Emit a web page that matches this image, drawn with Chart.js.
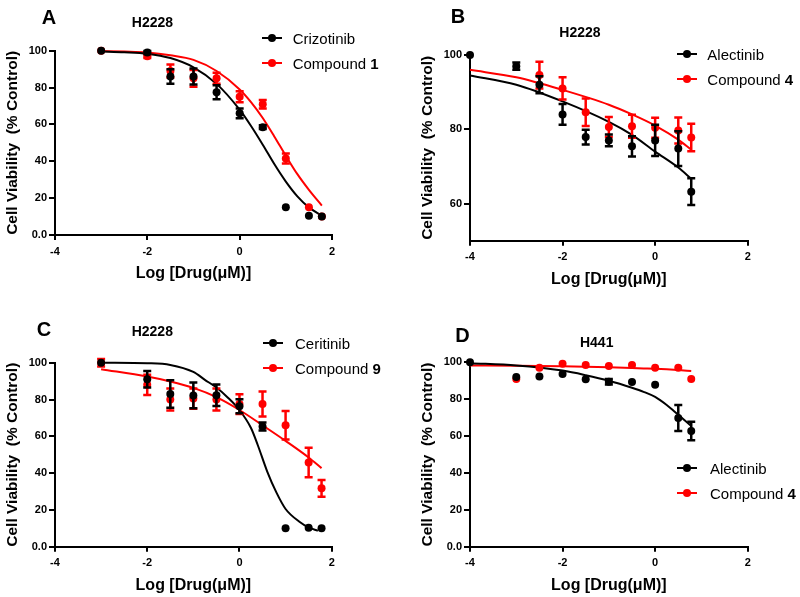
<!DOCTYPE html>
<html>
<head>
<meta charset="utf-8">
<script src="https://cdn.jsdelivr.net/npm/chart.js@4.4.0/dist/chart.umd.min.js"></script>
<style>
  body { margin:0; background:#fff; width:800px; height:597px; position:relative; overflow:hidden;
         font-family: Arial, "Liberation Sans", sans-serif; color:#000; }
  canvas { position:absolute; }
  .lbl { position:absolute; transform:translate(-50%,-50%); font-weight:bold; white-space:nowrap; }
  .letter { font-size:20px; }
  .cell { font-size:14px; }
  .legtxt { position:absolute; font-size:15px; white-space:nowrap; transform:translateY(-50%); }
  .legline { position:absolute; width:20px; height:2px; transform:translateY(-50%); }
  .legdot { position:absolute; width:8px; height:8px; border-radius:50%; transform:translate(-50%,-50%); }
</style>
</head>
<body>
<canvas id="cA" width="400" height="300" style="left:0;top:0"></canvas>
<canvas id="cB" width="400" height="300" style="left:400px;top:0"></canvas>
<canvas id="cC" width="400" height="297" style="left:0;top:300px"></canvas>
<canvas id="cD" width="400" height="297" style="left:400px;top:300px"></canvas>

<script>
// ===== DADOS =====
const xTicks  = [-4, -2, 0, 2];
const yTicks  = [0, 20, 40, 60, 80, 100];
const yTicksB = [60, 80, 100];

// A - H2228
const xA            = [-3, -2, -1.5, -1, -0.5, 0, 0.5, 1, 1.5, 1.78];
const crizotinib    = [100, 99, 86, 86, 77.5, 66, 58.5, 15, 10.5, 10];
const crizotinibErr = [0, 0.8, 4, 4.3, 3.8, 2.7, 1, 0, 0, 0];
const compound1     = [100, 97, 89, 85, 85, 75, 71, 41.5, 15, 10];
const compound1Err  = [0, 1, 3.5, 4.5, 3, 3, 2.3, 2.7, 0, 0];
const fitXA         = [-3, -2.5, -2, -1.5, -1, -0.5, 0, 0.25, 0.5, 0.75, 1, 1.25, 1.5, 1.78];
const crizotinibFit = [99.6, 99.2, 98.4, 96, 91, 82, 68, 59, 49, 38.5, 29, 21, 15, 10.5];
const compound1Fit  = [99.8, 99.5, 99, 97.5, 95, 89, 79, 72, 63.5, 53.5, 43, 33, 24.5, 16];

// B - H2228
const xB_alec       = [-4, -3, -2.5, -2, -1.5, -1, -0.5, 0, 0.5, 0.78];
const alectinibB    = [100, 97, 92, 84, 77.9, 77, 75.4, 77, 74.8, 63.2];
const alectinibBErr = [0, 1, 2.3, 2.8, 2, 1.6, 2.7, 4.2, 4.7, 3.6];
const xB_c4         = [-2.5, -2, -1.5, -1, -0.5, 0, 0.5, 0.78];
const compound4B    = [94.6, 91, 84.6, 80.6, 80.8, 80.4, 79.7, 77.8];
const compound4BErr = [3.6, 3, 3.7, 2.7, 3.1, 2.7, 3.5, 3.7];
const fitXB         = [-4, -3, -2, -1, -0.5, 0, 0.5, 0.78];
const alectinibBFit = [94.5, 92, 87.5, 82, 78.5, 74, 69.7, 66.7];
const compound4BFit = [96, 94, 90.6, 86.6, 84, 81, 77.2, 74.5];

// C - H2228
const xC            = [-3, -2, -1.5, -1, -0.5, 0, 0.5, 1, 1.5, 1.78];
const ceritinib     = [100, 91, 83, 82.2, 82.3, 76.3, 65.3, 10, 10.3, 10];
const ceritinibErr  = [0, 4.5, 7.5, 7, 5.9, 3.8, 2.2, 0, 0, 0];
const compound9     = [100, 88, 80, 80.5, 80, 77.5, 77.5, 66, 45.8, 31.7];
const compound9Err  = [2, 5.5, 6, 5.5, 6, 5.4, 6.8, 7.7, 8, 4.5];
const fitXC_cer     = [-3, -2, -1.5, -1, -0.75, -0.5, -0.25, 0, 0.25, 0.4, 0.6, 0.8, 1, 1.3, 1.5, 1.7];
const ceritinibFit  = [100, 99.7, 98.8, 95, 90.7, 86.5, 81, 74.3, 64.5, 55, 41, 29.5, 20.5, 13.6, 10.5, 8.7];
const fitXC_c9      = [-3, -2, -1.5, -1, -0.5, 0, 0.5, 1, 1.5, 1.78];
const compound9Fit  = [96.5, 92.5, 89.8, 86.3, 81.3, 74.3, 66, 57.5, 48.5, 42.7];

// D - H441
const xD_alec       = [-4, -3, -2.5, -2, -1.5, -1, -0.5, 0, 0.5, 0.78];
const alectinibD    = [100, 92, 92.3, 93.6, 90.8, 89.4, 89.3, 87.8, 69.8, 62.7];
const alectinibDErr = [0, 0, 0, 0, 0, 1.5, 0, 0, 7, 5];
const xD_c4         = [-3, -2.5, -2, -1.5, -1, -0.5, 0, 0.5, 0.78];
const compound4D    = [91, 97, 99.2, 98.5, 98, 98.5, 97.1, 97, 91];
const fitXD         = [-4, -3, -2, -1.5, -1, -0.5, -0.25, 0, 0.25, 0.5, 0.78];
const alectinibDFit = [99.5, 98.3, 95.5, 93, 90, 86.2, 84, 81.2, 76.8, 71.5, 65.5];
const compound4DFit = [98.3, 98.1, 97.8, 97.6, 97.3, 96.9, 96.7, 96.5, 96.2, 95.8, 95.3];

const RED = '#ff0000';
const FONT = 'Arial, "Liberation Sans", sans-serif';
Chart.defaults.font.family = FONT;
Chart.defaults.color = '#000';

const pts = (xs, ys) => xs.map((x, i) => ({ x, y: ys[i] }));

// ===== BARRAS DE ERRO =====
const errorBars = {
  id: 'errorBars',
  beforeDatasetDraw(chart, args) {
    const ds = chart.data.datasets[args.index];
    if (!ds.errors) return;
    const sx = chart.scales.x, sy = chart.scales.y;
    const ctx = chart.ctx;
    ctx.save();
    ctx.strokeStyle = ds.borderColor;
    ctx.lineWidth = 2.5;
    ds.data.forEach((p, i) => {
      const e = ds.errors[i];
      if (!e) return;
      const px = sx.getPixelForValue(p.x);
      const top = sy.getPixelForValue(p.y + e);
      const bot = sy.getPixelForValue(p.y - e);
      ctx.beginPath();
      ctx.moveTo(px, top); ctx.lineTo(px, bot);
      ctx.moveTo(px - 4, top); ctx.lineTo(px + 4, top);
      ctx.moveTo(px - 4, bot); ctx.lineTo(px + 4, bot);
      ctx.stroke();
    });
    ctx.restore();
  }
};

// ===== PAINEL =====
function pointSet(data, errors, color) {
  return { data, errors, backgroundColor: color, borderColor: color, pointRadius: 4,
           pointHoverRadius: 4, pointBorderWidth: 0, showLine: false, clip: false };
}
function fitSet(data, color) {
  return { data, borderColor: color, backgroundColor: color, borderWidth: 2, pointRadius: 0,
           showLine: true, cubicInterpolationMode: 'monotone', clip: false };
}

function makePanel(id, p) {
  const cv = document.getElementById(id);
  const w = cv.width, h = cv.height;
  const axisStyle = {
    grid:   { drawOnChartArea: false, drawTicks: true, color: '#000', lineWidth: 2 },
    border: { display: true, color: '#000', width: 2 }
  };
  return new Chart(cv, {
    type: 'scatter',
    data: { datasets: [
      pointSet(p.black, p.blackErr, '#000'),
      pointSet(p.red, p.redErr, RED),
      fitSet(p.blackFit, '#000'),
      fitSet(p.redFit, RED)
    ]},
    options: {
      responsive: false, animation: false, devicePixelRatio: 1, events: [],
      layout: { padding: { left: p.area.left - 55, right: w - p.area.right,
                           top: p.area.top, bottom: h - p.area.bottom - 48 } },
      plugins: { legend: { display: false }, tooltip: { enabled: false } },
      scales: {
        x: {
          type: 'linear', min: -4, max: 2,
          afterBuildTicks: s => { s.ticks = xTicks.map(v => ({ value: v })); },
          afterFit: s => { s.height = 48; },
          grid: { ...axisStyle.grid, tickLength: 5 },
          border: axisStyle.border,
          ticks: { color: '#000', font: { size: 11, weight: 'bold' }, padding: 5, maxRotation: 0 },
          title: { display: true, text: 'Log [Drug(μM)]', color: '#000',
                   font: { size: 16, weight: 'bold' }, padding: { top: 0, bottom: 0 } }
        },
        y: {
          type: 'linear', min: p.yMin, max: 100,
          afterBuildTicks: s => { s.ticks = p.yTicks.map(v => ({ value: v })); },
          afterFit: s => { s.width = 55; },
          grid: { ...axisStyle.grid, tickLength: 6 },
          border: axisStyle.border,
          ticks: { color: '#000', font: { size: 11, weight: 'bold' }, padding: 2,
                   callback: v => v === 0 ? '0.0' : String(v) },
          title: { display: true, text: 'Cell Viability  (% Control)', color: '#000',
                   font: { size: 15.5, weight: 'bold' }, padding: { top: 3, bottom: 0 } }
        }
      }
    },
    plugins: [errorBars]
  });
}

makePanel('cA', {
  area: { left: 55, right: 332, top: 50.7, bottom: 235 }, yMin: 0, yTicks,
  black: pts(xA, crizotinib), blackErr: crizotinibErr,
  red: pts(xA, compound1), redErr: compound1Err,
  blackFit: pts(fitXA, crizotinibFit), redFit: pts(fitXA, compound1Fit)
});
makePanel('cB', {
  area: { left: 70, right: 347.7, top: 55, bottom: 240.7 }, yMin: 50, yTicks: yTicksB,
  black: pts(xB_alec, alectinibB), blackErr: alectinibBErr,
  red: pts(xB_c4, compound4B), redErr: compound4BErr,
  blackFit: pts(fitXB, alectinibBFit), redFit: pts(fitXB, compound4BFit)
});
makePanel('cC', {
  area: { left: 55, right: 331.7, top: 62.7, bottom: 246.7 }, yMin: 0, yTicks,
  black: pts(xC, ceritinib), blackErr: ceritinibErr,
  red: pts(xC, compound9), redErr: compound9Err,
  blackFit: pts(fitXC_cer, ceritinibFit), redFit: pts(fitXC_c9, compound9Fit)
});
makePanel('cD', {
  area: { left: 70, right: 347.7, top: 62.3, bottom: 246.7 }, yMin: 0, yTicks,
  black: pts(xD_alec, alectinibD), blackErr: alectinibDErr,
  red: pts(xD_c4, compound4D), redErr: null,
  blackFit: pts(fitXD, alectinibDFit), redFit: pts(fitXD, compound4DFit)
});

// ===== TEXTOS =====
const letters = [['A', 49, 16.5], ['B', 458, 16], ['C', 44, 329], ['D', 462.5, 334.5]];
const cellLines = [['H2228', 152.5, 22], ['H2228', 580, 31.5], ['H2228', 152.3, 330.5], ['H441', 596.7, 341.7]];
const legends = [
  { x: 271.7, tx: 292.7, y: 37.7, dy: 25, names: ['Crizotinib', 'Compound <b>1</b>'] },
  { x: 686.7, tx: 707.3, y: 54.3, dy: 24.7, names: ['Alectinib', 'Compound <b>4</b>'] },
  { x: 272.7, tx: 295, y: 343.3, dy: 25, names: ['Ceritinib', 'Compound <b>9</b>'] },
  { x: 687.3, tx: 710, y: 468.3, dy: 24.4, names: ['Alectinib', 'Compound <b>4</b>'] }
];

function addEl(cls, html, style) {
  const d = document.createElement('div');
  d.className = cls;
  d.innerHTML = html;
  Object.assign(d.style, style);
  document.body.appendChild(d);
}
letters.forEach(([t, x, y]) => addEl('lbl letter', t, { left: x + 'px', top: y + 'px' }));
cellLines.forEach(([t, x, y]) => addEl('lbl cell', t, { left: x + 'px', top: y + 'px' }));
legends.forEach(l => {
  l.names.forEach((n, i) => {
    const y = l.y + i * l.dy;
    const c = i === 0 ? '#000' : RED;
    addEl('legline', '', { left: (l.x - 10) + 'px', top: y + 'px', background: c });
    addEl('legdot', '', { left: l.x + 'px', top: y + 'px', background: c });
    addEl('legtxt', n, { left: l.tx + 'px', top: y + 'px' });
  });
});
</script>
</body>
</html>
